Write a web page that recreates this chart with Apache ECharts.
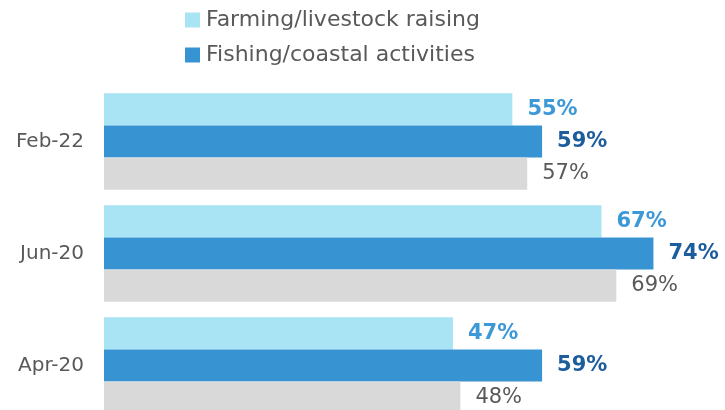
<!DOCTYPE html>
<html>
<head>
<meta charset="utf-8">
<script src="https://cdn.jsdelivr.net/npm/echarts@6/dist/echarts.min.js"></script>
<style>
  html, body { margin: 0; padding: 0; background: #ffffff; }
  #chart { width: 725px; height: 410px; }
</style>
</head>
<body>
<div id="chart"></div>
<script>
// Survey periods, top to bottom
const categories = ['Feb-22', 'Jun-20', 'Apr-20'];

// Share of respondents (%) per period
const farmingValues = [55, 67, 47];
const fishingValues = [59, 74, 59];
const otherValues = [57, 69, 48];

const seriesNames = ['Farming/livestock raising', 'Fishing/coastal activities', 'Other'];

const FONT = '"DejaVu Sans", sans-serif';

function barSeries(name, values, color, labelColor, bold) {
  return {
    name: name,
    type: 'bar',
    data: values,
    barCategoryGap: '14%',
    barGap: '0%',
    itemStyle: { color: color },
    label: {
      show: true,
      position: 'right',
      distance: 15,
      formatter: '{c}%',
      color: labelColor,
      fontFamily: FONT,
      fontSize: 21,
      fontWeight: bold ? 'bold' : 'normal'
    },
    emphasis: { disabled: true }
  };
}

const chart = echarts.init(document.getElementById('chart'), null, { renderer: 'canvas' });
chart.setOption({
  animation: false,
  legend: {
    data: [seriesNames[0], seriesNames[1]],
    orient: 'vertical',
    left: 185,
    top: 9,
    padding: 0,
    itemWidth: 15,
    itemHeight: 15,
    itemGap: 13,
    icon: 'rect',
    textStyle: {
      color: '#595959',
      fontFamily: FONT,
      fontSize: 22,
      padding: [0, 0, 0, 1]
    }
  },
  grid: {
    left: 104,
    top: 85.5,
    width: 594,
    height: 336,
    containLabel: false,
    outerBoundsMode: 'none'
  },
  xAxis: {
    type: 'value',
    min: 0,
    max: 80,
    show: false
  },
  yAxis: {
    type: 'category',
    data: categories,
    inverse: true,
    axisLine: { show: false },
    axisTick: { show: false },
    axisLabel: {
      margin: 20,
      color: '#595959',
      fontFamily: FONT,
      fontSize: 20
    }
  },
  series: [
    barSeries(seriesNames[0], farmingValues, '#a9e4f5', '#3d98d8', true),
    barSeries(seriesNames[1], fishingValues, '#3893d3', '#1c5d9e', true),
    barSeries(seriesNames[2], otherValues, '#d9d9d9', '#595959', false)
  ]
});
</script>
</body>
</html>
